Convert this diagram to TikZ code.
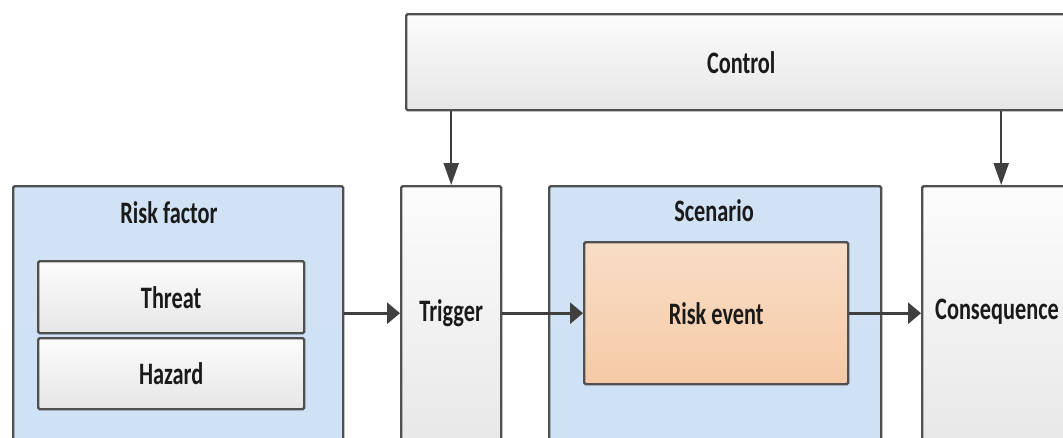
\documentclass[tikz,border=0pt]{standalone}
\usepackage{fontspec}
\usepackage{graphicx}
\setmainfont{Carlito}
\usetikzlibrary{arrows.meta}
\definecolor{bord}{HTML}{505050}
\definecolor{arrc}{HTML}{404040}
\definecolor{txt}{HTML}{1A1A1A}
\definecolor{blueT}{HTML}{D0E2F4}
\definecolor{blueM}{HTML}{E6EFF9}
\definecolor{blueB}{HTML}{CFE1F4}
\definecolor{grayT}{HTML}{FCFCFC}
\definecolor{grayB}{HTML}{E6E6E6}
\definecolor{peachT}{HTML}{F9DDC6}
\definecolor{peachB}{HTML}{F5CAA6}
\newcommand{\tstretch}[1]{\scalebox{1}[1.4]{#1}}
\tikzset{
  box/.style={draw=bord, line width=2.4pt, rounded corners=1.5pt, inner sep=0pt, anchor=north west},
  bluebox/.style={box, top color=blueT, middle color=blueM, bottom color=blueB},
  graybox/.style={box, top color=grayT, bottom color=grayB},
  peachbox/.style={box, top color=peachT, bottom color=peachB},
  lbl/.style={text=txt, inner sep=0pt, font=\fontsize{22.3}{23}\selectfont\bfseries},
  harr/.style={draw=arrc, line width=3pt, -{Triangle[length=13pt,width=21pt]}},
  varr/.style={draw=arrc, line width=2.2pt, -{Triangle[length=22pt,width=15pt]}},
}
\begin{document}
\begin{tikzpicture}[x=1pt,y=-1pt]
\useasboundingbox (0,0) rectangle (1063,437);
\clip (0,0) rectangle (1063,437);
% boxes
\node[graybox, minimum width=670pt, minimum height=96pt] (ctl) at (405,13) {};
\node[bluebox, minimum width=330pt, minimum height=280pt] (rf) at (12,185) {};
\node[graybox, minimum width=266pt, minimum height=72pt] (thr) at (37,260) {};
\node[graybox, minimum width=266pt, minimum height=71pt] (haz) at (37,337) {};
\node[graybox, minimum width=100pt, minimum height=280pt] (trig) at (400,185) {};
\node[bluebox, minimum width=332pt, minimum height=280pt] (scen) at (548,185) {};
\node[peachbox, minimum width=264pt, minimum height=142pt] (re) at (583,241) {};
\node[graybox, minimum width=158pt, minimum height=280pt] (cons) at (921,185) {};
% labels
\node[lbl] (lctl) at (ctl.center) {\tstretch{Control}};
\node[lbl] (lrf) at (169,213) {\tstretch{Risk factor}};
\node[lbl] (lthr) at (thr.center) {\tstretch{Threat}};
\node[lbl] (lhaz) at (haz.center) {\tstretch{Hazard}};
\node[lbl] (ltrig) at (trig.center |- re.center) {\tstretch{Trigger}};
\node[lbl] (lscen) at (714,211) {\tstretch{Scenario}};
\node[lbl] (lre) at (re.center) {\tstretch{Risk event}};
\node[lbl] (lcons) at (997,312) {\tstretch{Consequence}};
% connectors
\draw[harr] (rf.east |- re.center) -- (trig.west |- re.center);
\draw[harr] (trig.east |- re.center) -- (re.west);
\draw[harr] (re.east) -- (cons.west |- re.center);
\draw[varr] (trig.north |- ctl.south) -- (trig.north);
\draw[varr] (cons.north |- ctl.south) -- (cons.north);
\end{tikzpicture}
\end{document}
